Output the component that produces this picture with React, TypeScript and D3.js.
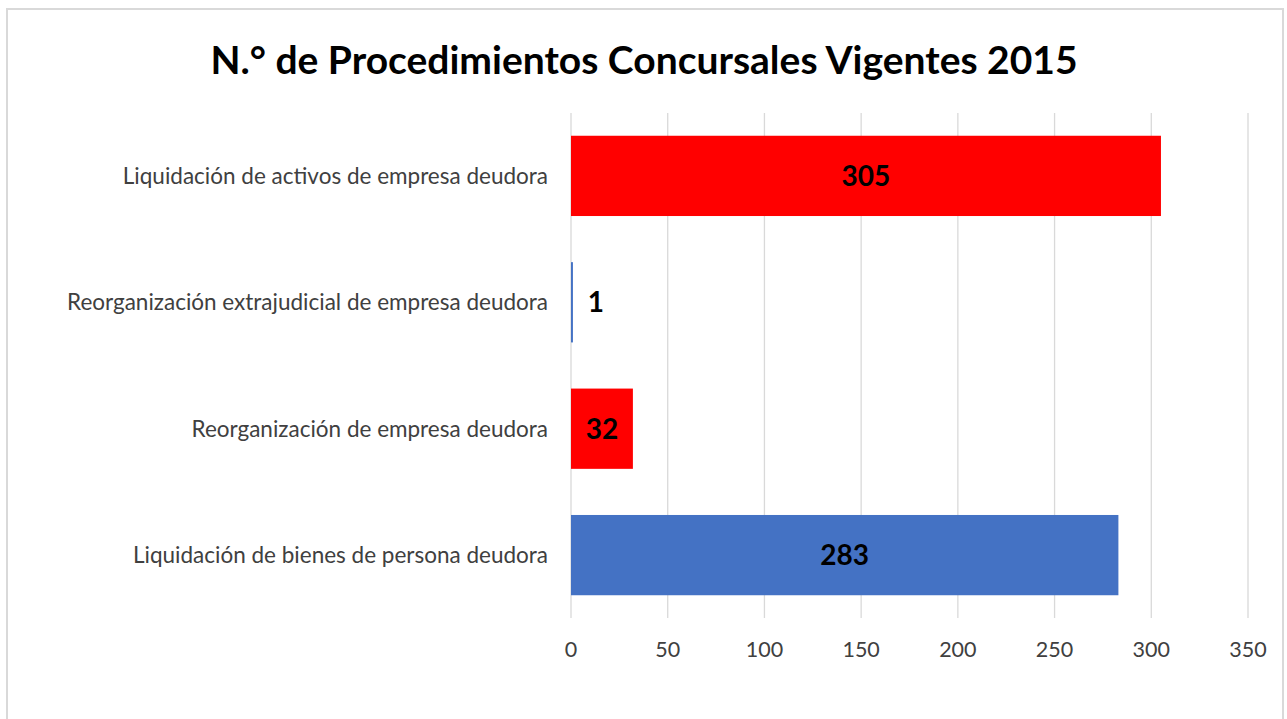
import React from "react"
import * as d3 from "d3"

const categories = [
  "Liquidación de activos de empresa deudora",
  "Reorganización extrajudicial de empresa deudora",
  "Reorganización de empresa deudora",
  "Liquidación de bienes de persona deudora",
]
const values = [305, 1, 32, 283]
const colors = ["#FF0000", "#4472C4", "#FF0000", "#4472C4"]
const ticks = [0, 50, 100, 150, 200, 250, 300, 350]
const title = "N.° de Procedimientos Concursales Vigentes 2015"

const W = 1287
const H = 719
const FONT = "Lato, 'Open Sans', sans-serif"

export default function App() {
  const margin = {left: 571, right: 39, top: 113, bottom: 101}

  const x = d3.scaleLinear()
    .domain([0, 350])
    .range([margin.left, W - margin.right])

  const y = d3.scaleBand()
    .domain(categories)
    .range([margin.top, H - margin.bottom])
    .paddingInner(0.365)
    .paddingOuter(0.18)

  return (
    <svg width={W} height={H} style={{position: "absolute", left: 0, top: 0}}>
      <rect x={7} y={9} width={1276} height={720} fill="#fff" stroke="#d9d9d9" strokeWidth={2}/>
      <text x={644} y={60} dy="0.36em" textAnchor="middle" fontFamily={FONT} fontWeight="bold" fontSize={39} fill="#000">
        {title}
      </text>

      {/* gridlines */}
      {ticks.map(t => (
        <line key={t} x1={x(t)} x2={x(t)} y1={margin.top} y2={H - margin.bottom}
          stroke="#d9d9d9" strokeWidth={1.3}/>
      ))}

      {/* bars */}
      {categories.map((c, i) => (
        <rect key={c} x={x(0)} y={y(c)} height={y.bandwidth()}
          width={Math.max(x(values[i]) - x(0), 1.5)} fill={colors[i]}/>
      ))}

      {/* category labels */}
      {categories.map(c => (
        <text key={c} x={548} y={(y(c) || 0) + y.bandwidth() / 2} dy="0.35em"
          textAnchor="end" fontFamily={FONT} fontSize={22.5} fill="#404040">{c}</text>
      ))}

      {/* value labels */}
      {categories.map((c, i) => {
        const w = x(values[i]) - x(0)
        const cx = w > 40 ? x(0) + w / 2 : x(values[i]) + 23
        return (
          <text key={c} x={cx} y={(y(c) || 0) + y.bandwidth() / 2} dy="0.36em"
            textAnchor="middle" fontFamily={FONT} fontWeight="bold" fontSize={28} fill="#000">
            {values[i]}
          </text>
        )
      })}

      {/* tick labels */}
      {ticks.map(t => (
        <text key={t} x={x(t)} y={649} dy="0.35em" textAnchor="middle"
          fontFamily={FONT} fontSize={21.5} fill="#404040">{t}</text>
      ))}
    </svg>
  )
}
